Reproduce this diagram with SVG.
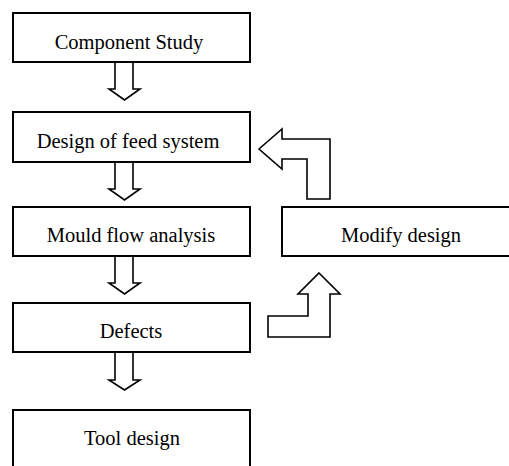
<svg xmlns="http://www.w3.org/2000/svg" width="509" height="466" viewBox="0 0 509 466">
<style>
.box{fill:#fff;stroke:#000;stroke-width:2}
.arr{fill:#fff;stroke:#000;stroke-width:1.6;stroke-linejoin:miter}
text{font-family:"Liberation Serif","Times New Roman",serif;font-size:20.5px;fill:#000;text-anchor:middle}
</style>
<rect width="509" height="466" fill="#fff"/>
<g id="connectors">
<path class="arr" d="M115,62 L133,62 L133,89 L140,89 L124.5,100 L109,89 L115,89 Z"/>
<path class="arr" d="M115,162 L133,162 L133,189 L140,189 L124.5,200 L109,189 L115,189 Z"/>
<path class="arr" d="M115,256 L133,256 L133,283 L140,283 L124.5,294 L109,283 L115,283 Z"/>
<path class="arr" d="M115,352 L133,352 L133,380 L140,380 L124.5,390 L109,380 L115,380 Z"/>
<path class="arr" d="M259,149 L282,129 L282,139 L330,139 L330,199 L307,199 L307,159 L282,159 L282,169 Z"/>
<path class="arr" d="M319,273 L340,294 L330,294 L330,337 L268,337 L268,316 L308,316 L308,294 L298,294 Z"/>
</g>
<g id="component-study"><rect class="box" x="13" y="13" width="237" height="49"/><text x="129" y="49">Component Study</text></g>
<g id="design-feed"><rect class="box" x="13" y="112" width="237" height="50"/><text x="128" y="148">Design of feed system</text></g>
<g id="mould-flow"><rect class="box" x="13" y="207" width="237" height="49"/><text x="131" y="242">Mould flow analysis</text></g>
<g id="defects"><rect class="box" x="13" y="303" width="237" height="49"/><text x="131" y="338">Defects</text></g>
<g id="tool-design"><rect class="box" x="13" y="410" width="237" height="70"/><text x="132" y="445">Tool design</text></g>
<g id="modify-design"><rect class="box" x="282" y="207" width="250" height="49"/><text x="401" y="242">Modify design</text></g>
</svg>
